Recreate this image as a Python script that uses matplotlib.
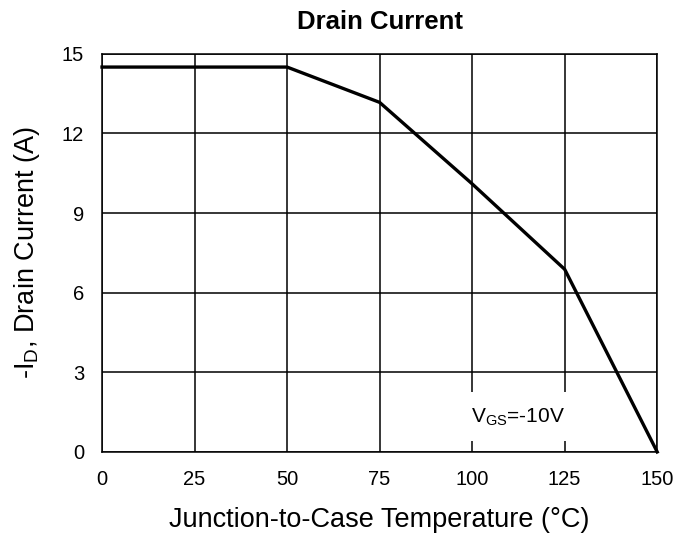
import numpy as np
import matplotlib
matplotlib.use('Agg')
import matplotlib.pyplot as plt

# derating curve
temp_c = [0, 50, 75, 100, 125, 150]
drain_a = [14.5, 14.5, 13.17, 10.1, 6.88, 0.0]
x_ticks = [0, 25, 50, 75, 100, 125, 150]
y_ticks = [0, 3, 6, 9, 12, 15]

plt.rcParams['font.family'] = ['Liberation Sans', 'DejaVu Sans']
plt.rcParams['mathtext.fontset'] = 'custom'
plt.rcParams['mathtext.rm'] = 'Liberation Sans'
plt.rcParams['mathtext.it'] = 'Liberation Sans'

fig = plt.figure(figsize=(6.94, 5.38), dpi=100)
ax = fig.add_axes([0.147, 0.16, 0.8, 0.74])

ax.plot(temp_c, drain_a, color='black', lw=2.4, solid_joinstyle='miter', zorder=4, clip_on=False)

ax.set_xlim(0, 150)
ax.set_ylim(0, 15)
ax.set_xticks(x_ticks)
ax.set_yticks(y_ticks)
ax.grid(True, color='black', lw=1.1)
ax.set_axisbelow(True)
for sp in ax.spines.values():
    sp.set_color('black')
    sp.set_linewidth(1.1)
ax.tick_params(length=0, labelsize=14.5, pad=13)
ax.tick_params(axis='y', pad=13)

ax.set_title('Drain Current', fontsize=18.5, fontweight='bold', pad=18)
ax.set_xlabel('Junction-to-Case Temperature (°C)', fontsize=19.5, labelpad=13)
ax.set_ylabel(r'-I$_\mathrm{D}$, Drain Current (A)', fontsize=19.5, labelpad=14)

ax.text(112.3, 1.32, r'V$_\mathrm{GS}$=-10V', fontsize=15, ha='center', va='center', zorder=3,
        bbox=dict(facecolor='white', edgecolor='none', pad=10))

fig.savefig('out.png', dpi=100)
